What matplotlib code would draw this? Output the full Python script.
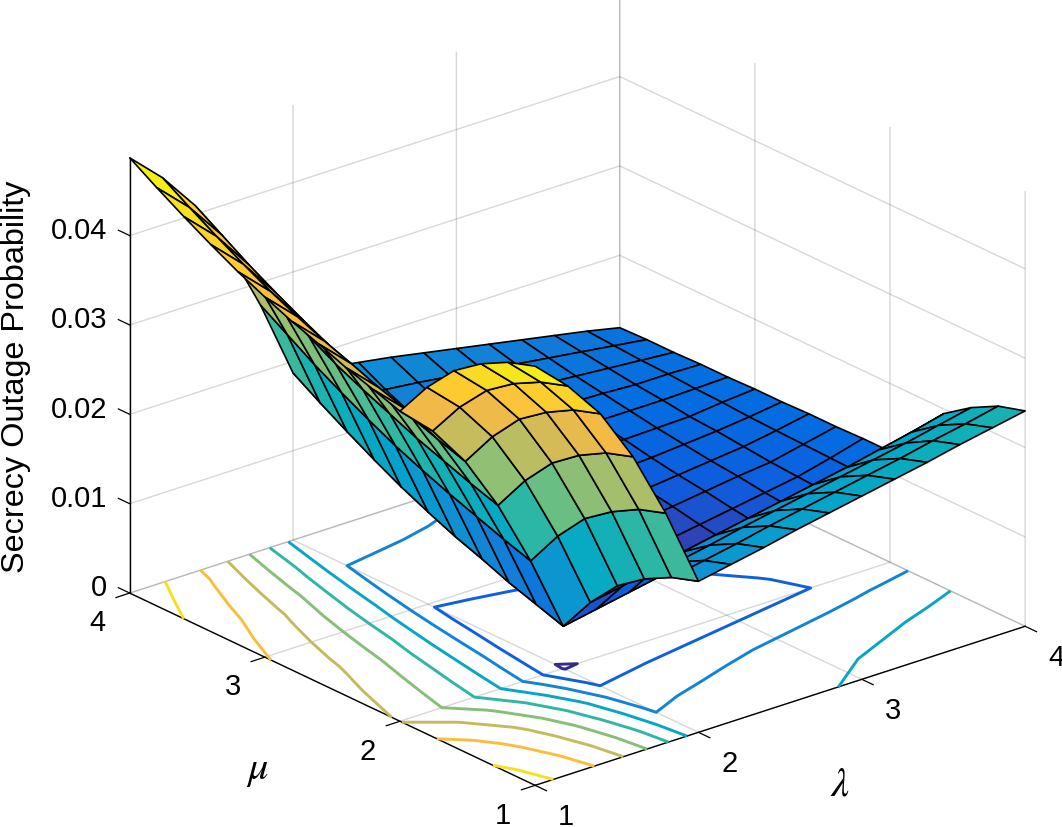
import numpy as np
import matplotlib
matplotlib.use('Agg')
import matplotlib.pyplot as plt
from matplotlib.colors import LinearSegmentedColormap, Normalize
from mpl_toolkits.mplot3d import proj3d

# axes
lam = [1.0, 1.2, 1.4, 1.6, 1.8, 2.0, 2.2, 2.4, 2.6, 2.8, 3.0, 3.2, 3.4, 3.6, 3.8, 4.0]
mu = [1.0, 1.2, 1.4, 1.6, 1.8, 2.0, 2.2, 2.4, 2.6, 2.8, 3.0, 3.2, 3.4, 3.6, 3.8, 4.0]

# secrecy outage probability, one row per mu, one column per lambda
sop = [
    [.0469, .0435, .0392, .0332, .0257, .0169, .0176, .0183, .0191, .0198, .0205, .0212, .0219, .0227, .0234, .0241],
    [.0459, .0425, .0382, .0322, .0247, .0159, .0166, .0173, .0181, .0188, .0195, .0202, .0209, .0217, .0224, .0232],
    [.0443, .0409, .0365, .0305, .0230, .0143, .0150, .0157, .0165, .0172, .0179, .0186, .0193, .0200, .0208, .0216],
    [.0421, .0387, .0343, .0282, .0208, .0121, .0128, .0135, .0142, .0149, .0156, .0163, .0170, .0178, .0186, .0195],
    [.0388, .0354, .0309, .0248, .0174, .0088, .0095, .0102, .0109, .0116, .0123, .0130, .0137, .0145, .0154, .0163],
    [.0347, .0313, .0267, .0206, .0132, .0047, .0054, .0061, .0068, .0075, .0082, .0089, .0096, .0103, .0113, .0124],
    [.0357, .0323, .0277, .0216, .0142, .0057, .0063, .0069, .0075, .0081, .0087, .0093, .0099, .0105, .0114, .0124],
    [.0367, .0333, .0288, .0227, .0153, .0067, .0072, .0078, .0083, .0088, .0093, .0098, .0103, .0107, .0115, .0123],
    [.0379, .0345, .0299, .0238, .0164, .0079, .0083, .0087, .0091, .0095, .0098, .0102, .0106, .0110, .0116, .0123],
    [.0390, .0356, .0311, .0251, .0176, .0090, .0093, .0096, .0099, .0102, .0105, .0107, .0110, .0113, .0117, .0122],
    [.0403, .0369, .0324, .0264, .0189, .0103, .0105, .0107, .0108, .0110, .0111, .0113, .0114, .0115, .0119, .0122],
    [.0417, .0383, .0339, .0278, .0204, .0117, .0118, .0118, .0119, .0119, .0119, .0119, .0119, .0119, .0120, .0121],
    [.0433, .0399, .0355, .0295, .0220, .0133, .0132, .0131, .0130, .0129, .0127, .0125, .0124, .0122, .0122, .0121],
    [.0450, .0416, .0372, .0312, .0237, .0150, .0147, .0145, .0142, .0139, .0136, .0132, .0129, .0126, .0123, .0120],
    [.0468, .0434, .0391, .0330, .0256, .0168, .0164, .0159, .0155, .0150, .0145, .0140, .0135, .0130, .0125, .0120],
    [.0487, .0453, .0410, .0350, .0275, .0187, .0181, .0175, .0169, .0162, .0155, .0148, .0141, .0134, .0127, .0119],
]

contour_levels = [.005, .01, .015, .02, .025, .03, .035, .04, .045]
xy_ticks = [1, 2, 3, 4]
z_ticks = [0, .01, .02, .03, .04]
z_ticklabels = ['0', '0.01', '0.02', '0.03', '0.04']

# every 4th entry of the parula table
parula_colors = [
    (.2081, .1663, .5292), (.2081, .2386, .6771), (.0591, .3598, .8683), (.0165, .4266, .8786),
    (.0723, .4887, .8467), (.0641, .5570, .8240), (.0239, .6287, .8038), (.0267, .6642, .7607),
    (.0843, .6928, .7062), (.2178, .7250, .6193), (.3953, .7459, .5244), (.5300, .7491, .4661),
    (.6473, .7456, .4188), (.7525, .7384, .3768), (.8507, .7299, .3360), (.9739, .7314, .2666),
    (.9955, .7861, .1967), (.9697, .8481, .1475), (.9598, .9218, .0948), (.9763, .9831, .0538),
]
parula = LinearSegmentedColormap.from_list('parula', parula_colors)

plt.rcParams['font.family'] = ['Liberation Sans', 'DejaVu Sans']

X, Y = np.meshgrid(lam, mu)
Z = np.array(sop)
norm = Normalize(Z.min(), Z.max())

fig = plt.figure(figsize=(10.62, 8.28), dpi=100)
ax = fig.add_axes([70.8 / 1062, -71.7 / 828, 986.6 / 1062, 986.6 / 828],
                  projection='3d', proj_type='ortho', computed_zorder=False)
ax.view_init(elev=23.1, azim=-129.6)
ax.set_box_aspect((1, 1, 0.744))
ax.patch.set_alpha(0)

ax.contour(X, Y, Z, levels=contour_levels, zdir='z', offset=0, cmap=parula, norm=norm,
           linewidths=2.1, zorder=2)
ax.plot_surface(X, Y, Z, rstride=1, cstride=1, facecolors=parula(norm(Z)), shade=False,
                edgecolor='black', linewidth=1.2, zorder=3)

ax.set_xlim(1, 4, view_margin=0)
ax.set_ylim(1, 4, view_margin=0)
ax.set_zlim(0, Z.max(), view_margin=0)
ax.set_xticks(xy_ticks)
ax.set_yticks(xy_ticks)
ax.set_zticks(z_ticks)
ax.tick_params(labelbottom=False, labelleft=False)
# matlab draws the z ticks along the mu direction
ax.zaxis._get_tickdir = lambda pos: 1

for axis in (ax.xaxis, ax.yaxis, ax.zaxis):
    axis.set_pane_color((1, 1, 1, 0))
    axis.pane.set_edgecolor('none')
    axis.line.set_color('black')
    axis.line.set_linewidth(1.0)
    axis._axinfo['grid'].update(color=(.15, .15, .15, .18), linewidth=1.0)
    axis._axinfo['tick'].update(inward_factor=0.35, outward_factor=0.0, linewidth={True: 0.9, False: 0.9}, color='black')
ax.zaxis._axinfo['tick'].update(inward_factor=0.0, outward_factor=0.35)


def tick_text(x, y, z, s, ha='center'):
    # project to the 2d plane so the text sits where it is drawn
    px, py, _ = proj3d.proj_transform(x, y, z, ax.get_proj())
    ax.text2D(px, py, s, transform=ax.transData, fontsize=21, ha=ha, va='center', zorder=5)


# tick labels placed by hand, the native ones only move along the tick direction
for t in xy_ticks:
    tick_text(t, 0.77, -0.0018, str(t))
    tick_text(0.802, t, -0.0021, str(t))
for t, s in zip(z_ticks, z_ticklabels):
    tick_text(1, 4.165, t - 0.00055, s, ha='right')

fig.text(16 / 1062, 1 - 377 / 828, 'Secrecy Outage Probability', fontsize=23.3, rotation=90,
         ha='center', va='center')
fig.text(257 / 1062, 1 - 770 / 828, r'$\mu$', fontsize=29, ha='center', va='center', math_fontfamily='stix')
fig.text(840 / 1062, 1 - 785 / 828, r'$\lambda$', fontsize=29, ha='center', va='center', math_fontfamily='stix')

fig.savefig('out.png', dpi=100)
